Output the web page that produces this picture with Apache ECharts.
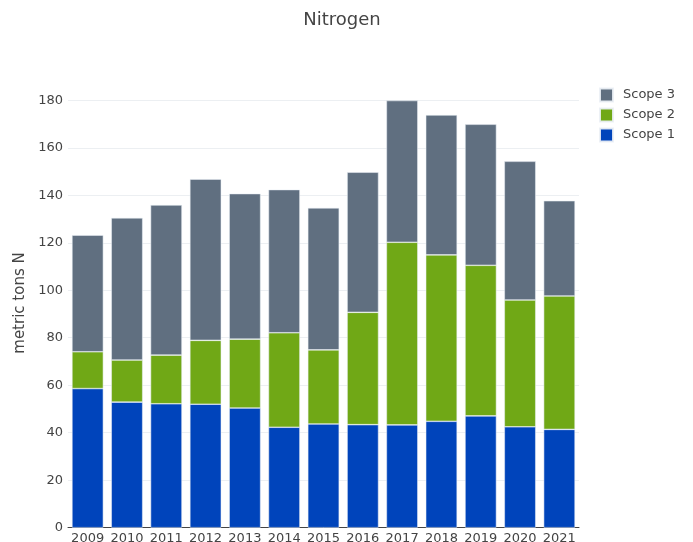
<!DOCTYPE html>
<html><head><meta charset="utf-8">
<script src="https://cdn.jsdelivr.net/npm/echarts@6/dist/echarts.min.js"></script>
<style>html,body{margin:0;padding:0;background:#fff}#c{width:693px;height:542px}</style>
</head><body><div id="c"></div>
<script>
const years = ['2009','2010','2011','2012','2013','2014','2015','2016','2017','2018','2019','2020','2021'];
const scope1 = [58.6,52.9,52.2,52.0,50.4,42.3,43.7,43.4,43.3,44.8,47.1,42.5,41.4];
const scope2 = [15.5,17.7,20.5,26.9,29.0,39.8,31.2,47.3,76.9,70.1,63.4,53.4,56.2];
const scope3 = [49.1,59.9,63.2,67.9,61.3,60.3,59.8,59.0,59.7,58.9,59.4,58.4,40.1];
const yTicks = [0,20,40,60,80,100,120,140,160,180];

const font = "'DejaVu Sans', Verdana, sans-serif";
const chart = echarts.init(document.getElementById('c'), null, {renderer:'canvas'});
const mk = (name, data, color) => ({
  name, type:'bar', stack:'t', data, barCategoryGap:'20%',
  itemStyle:{color, borderColor:'rgba(235,240,245,0.9)', borderWidth:0.6},
  emphasis:{disabled:true}
});
chart.setOption({
  animation:false,
  textStyle:{fontFamily:font},
  title:{text:'Nitrogen', left:337, top:6, textAlign:'center',
    textStyle:{fontSize:18, fontWeight:'normal', color:'#444', fontFamily:font}},
  legend:{orient:'vertical', left:594, top:82.5, itemWidth:13, itemHeight:13, itemGap:5, icon:'rect',
    data:['Scope 3','Scope 2','Scope 1'],
    textStyle:{fontSize:13, color:'#444', fontFamily:font, padding:[0,0,0,5]}},
  grid:{left:68, right:114, top:100.3, bottom:14.3, containLabel:false, outerBoundsMode:'none'},
  xAxis:{type:'category', data:years,
    axisLine:{show:true, lineStyle:{color:'#444', width:1}},
    axisTick:{show:false},
    axisLabel:{fontSize:13, color:'#444', margin:4, interval:0, fontFamily:font}},
  yAxis:{type:'value', min:yTicks[0], max:yTicks[yTicks.length-1], interval:20,
    name:'metric tons N', nameLocation:'middle', nameGap:40, nameRotate:90,
    nameTextStyle:{fontSize:15, color:'#444', fontFamily:font, padding:[0,0,0,22]},
    axisLine:{show:false}, axisTick:{show:false},
    splitLine:{lineStyle:{color:'#eceff2', width:1}},
    axisLabel:{fontSize:13, color:'#444', margin:5, fontFamily:font}},
  series:[
    mk('Scope 1', scope1, '#0044bb'),
    mk('Scope 2', scope2, '#70a816'),
    mk('Scope 3', scope3, '#606f80')
  ]
});
</script></body></html>
